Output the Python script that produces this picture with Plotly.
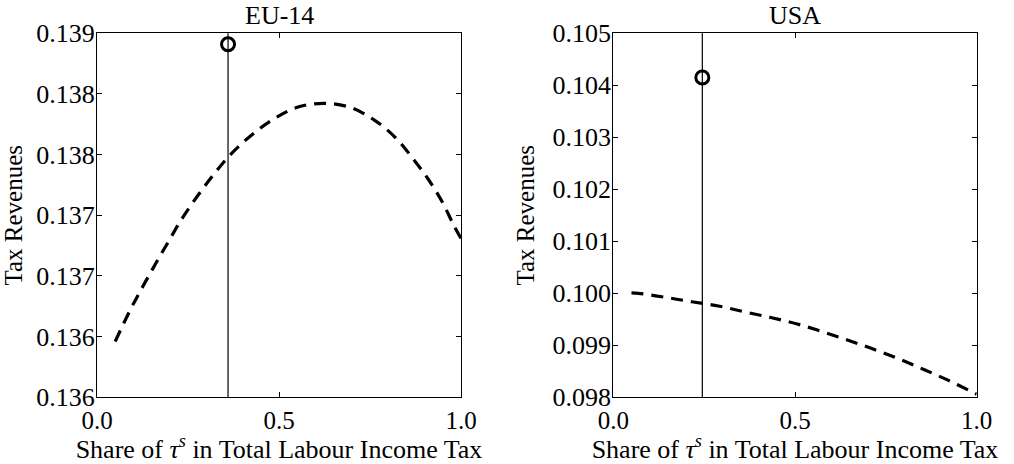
import plotly.graph_objects as go

# ---------------- data ----------------
eu_share = [0.05, 0.089, 0.123, 0.159, 0.196, 0.234, 0.278, 0.321, 0.370, 0.425, 0.484,
            0.550, 0.622, 0.695, 0.762, 0.819, 0.866, 0.910, 0.949, 0.982, 1.0]
eu_revenue = [0.13646, 0.136706, 0.136898, 0.13709, 0.137282, 0.137475, 0.137667, 0.137838,
              0.138011, 0.138162, 0.138291, 0.13839, 0.138423, 0.13839, 0.138285, 0.138143,
              0.137975, 0.137797, 0.137607, 0.137406, 0.13731]
eu_current_share = 0.36
eu_current_revenue = 0.13891

us_share = [0.05, 0.069, 0.142, 0.216, 0.289, 0.363, 0.436, 0.506, 0.578, 0.650, 0.720,
            0.789, 0.856, 0.924, 0.991, 1.0]
us_revenue = [0.10001, 0.1, 0.099923, 0.099838, 0.099756, 0.09964, 0.099531, 0.09941,
              0.099256, 0.099089, 0.098915, 0.09873, 0.09853, 0.09832, 0.09809, 0.09806]
us_current_share = 0.245
us_current_revenue = 0.10415

x_ticks = [0.0, 0.5, 1.0]
x_ticklabels = ["0.0", "0.5", "1.0"]
eu_yticks = [0.136, 0.1365, 0.137, 0.1375, 0.138, 0.1385, 0.139]
eu_yticklabels = ["0.136", "0.136", "0.137", "0.137", "0.138", "0.138", "0.139"]
us_yticks = [0.098, 0.099, 0.100, 0.101, 0.102, 0.103, 0.104, 0.105]
us_yticklabels = ["0.098", "0.099", "0.100", "0.101", "0.102", "0.103", "0.104", "0.105"]
titles = ["EU-14", "USA"]
x_title = "Share of <i>τ</i><sup><i>s</i></sup> in Total Labour Income Tax"
y_title = "Tax Revenues"

# ---------------- figure ----------------
W, H = 1014, 464
FONT = "Liberation Serif"
FS_YTICK = 26
FS_XTICK = 25
FS_TITLE = 26
FS_XLABEL = 26
FS_YLABEL = 25

fig = go.Figure()

dash_line = dict(color="black", width=3.2, dash="12px,8px")
circle = dict(symbol="circle-open", size=13, color="black", line=dict(width=3, color="black"))

fig.add_trace(go.Scatter(x=eu_share, y=eu_revenue, mode="lines", line=dash_line,
                         line_shape="spline", xaxis="x", yaxis="y", showlegend=False))
fig.add_trace(go.Scatter(x=[eu_current_share], y=[eu_current_revenue], mode="markers",
                         marker=circle, xaxis="x", yaxis="y", showlegend=False))
fig.add_trace(go.Scatter(x=us_share, y=us_revenue, mode="lines", line=dash_line,
                         line_shape="spline", xaxis="x2", yaxis="y2", showlegend=False))
fig.add_trace(go.Scatter(x=[us_current_share], y=[us_current_revenue], mode="markers",
                         marker=circle, xaxis="x2", yaxis="y2", showlegend=False))

# vertical lines at the current share
fig.add_shape(type="line", xref="x", yref="y domain", x0=eu_current_share, x1=eu_current_share,
              y0=0, y1=1, line=dict(color="black", width=1.2), layer="below")
fig.add_shape(type="line", xref="x2", yref="y2 domain", x0=us_current_share, x1=us_current_share,
              y0=0, y1=1, line=dict(color="black", width=1.2), layer="below")

left_dom = [97 / W, 461 / W]
right_dom = [613.3 / W, 976.7 / W]
y_dom = [1 - 397.3 / H, 1 - 33.3 / H]

common_axis = dict(showline=True, linecolor="black", linewidth=1.2, mirror="ticks",
                   ticks="inside", ticklen=5, tickwidth=1, tickcolor="black",
                   showgrid=False, zeroline=False, automargin=False)


def xax(dom, anchor):
    return dict(domain=dom, range=[0, 1], tickvals=x_ticks, ticktext=x_ticklabels,
                anchor=anchor, ticklabelstandoff=1,
                tickfont=dict(family=FONT, size=FS_XTICK, color="black"),
                title=dict(text=x_title, standoff=6,
                           font=dict(family=FONT, size=FS_XLABEL, color="black")),
                **common_axis)


def yax(ticks, labels, anchor):
    return dict(domain=y_dom, range=[ticks[0], ticks[-1]], tickvals=ticks, ticktext=labels,
                anchor=anchor, ticklabelstandoff=-4,
                tickfont=dict(family=FONT, size=FS_YTICK, color="black"),
                title=dict(text=y_title, standoff=10,
                           font=dict(family=FONT, size=FS_YLABEL, color="black")),
                **common_axis)


fig.update_layout(
    template="none",
    width=W, height=H, autosize=False,
    margin=dict(l=0, r=0, t=0, b=0),
    paper_bgcolor="white", plot_bgcolor="white",
    font=dict(family=FONT, size=FS_YTICK, color="black"),
    xaxis=xax(left_dom, "y"),
    yaxis=yax(eu_yticks, eu_yticklabels, "x"),
    xaxis2=xax(right_dom, "y2"),
    yaxis2=yax(us_yticks, us_yticklabels, "x2"),
)

for i, t in enumerate(titles):
    dom = left_dom if i == 0 else right_dom
    fig.add_annotation(text=t, xref="paper", yref="paper",
                       x=(dom[0] + dom[1]) / 2, y=1 - 16 / H,
                       xanchor="center", yanchor="middle", showarrow=False,
                       font=dict(family=FONT, size=FS_TITLE, color="black"))

fig.write_html("out.html")
